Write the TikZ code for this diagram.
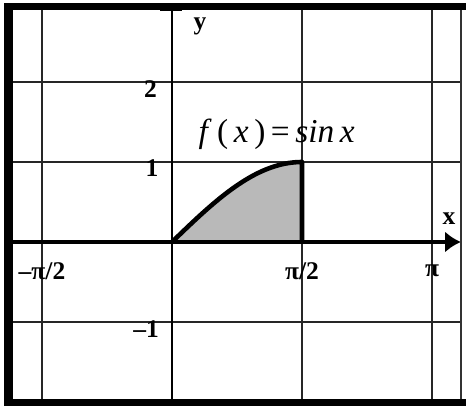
\documentclass[tikz,border=0pt]{standalone}
\usepackage{fontspec}
\setmainfont{Liberation Serif}
\usetikzlibrary{arrows.meta}
\begin{document}
\begin{tikzpicture}[x=2.6cm,y=1.6cm,
    gridline/.style={line width=0.7pt,black!85},
    ticklabel/.style={font=\fontsize{14.5}{17}\selectfont\bfseries,inner sep=0pt}]
    \useasboundingbox (-1.3231,-2.05) rectangle (2.2615,3.025);
    % grid
    \foreach \gx in {-1,1,2}
        \draw[gridline] (\gx,-2.0) -- (\gx,2.95);
    \foreach \gy in {-1,1,2}
        \draw[gridline] (-1.25,\gy) -- (2.22,\gy);
    % area under the curve
    \fill[gray!55] (0,0) -- plot[domain=0:90,samples=40] ({\x/90},{sin(\x)}) -- (1,0) -- cycle;
    % axes
    \coordinate (O) at (0,0);
    \coordinate (xstart) at (-1.25,0);
    \coordinate (xend) at (2.223,0);
    \coordinate (ystart) at (0,-2.0);
    \coordinate (yend) at (0,2.9);
    \draw[line width=2.8pt,-{Latex[length=9pt,width=12pt]}] (xstart) -- (xend);
    \draw[line width=1.7pt] (ystart) -- (yend);
    \draw[line width=1.7pt] (-0.092,2.9) -- (0.077,2.9);
    % curve and right edge
    \coordinate (P) at (1,0);
    \coordinate (Q) at (1,1);
    \draw[line width=2.6pt,line join=round] (O) -- plot[domain=0:90,samples=40] ({\x/90},{sin(\x)}) -- (P);
    % frame
    \fill (-1.2923,2.9) rectangle (2.2615,2.9875);
    \fill (-1.2923,-2.05) rectangle (-1.223,2.9875);
    \fill (-1.2923,-2.05) rectangle (2.2615,-1.9625);
    \draw[line width=1.1pt,black!80] (2.223,-1.9625) -- (2.223,2.9);
    % labels
    \node[ticklabel] (ylab) at (0.215,2.7) {y};
    \node[ticklabel] (xlab) at (2.13,0.29) {x};
    \node[ticklabel] (ytwo) at (-0.165,1.91) {2};
    \node[ticklabel] (yone) at (-0.154,0.925) {1};
    \node[ticklabel] (ymone) at (-0.2,-1.0875) {–1};
    \node[ticklabel] (xmhalf) at (-1.0,-0.36) {–π/2};
    \node[ticklabel] (xhalf) at (1.0,-0.36) {π/2};
    \node[ticklabel] (xpi) at (2.0,-0.36) {π};
    \node[font=\fontsize{19}{22}\selectfont] (flab) at (0.805,1.35)
        {\textit{f}\,(\,\textit{x}\,)\,=\,\textit{sin\,x}};
\end{tikzpicture}
\end{document}
